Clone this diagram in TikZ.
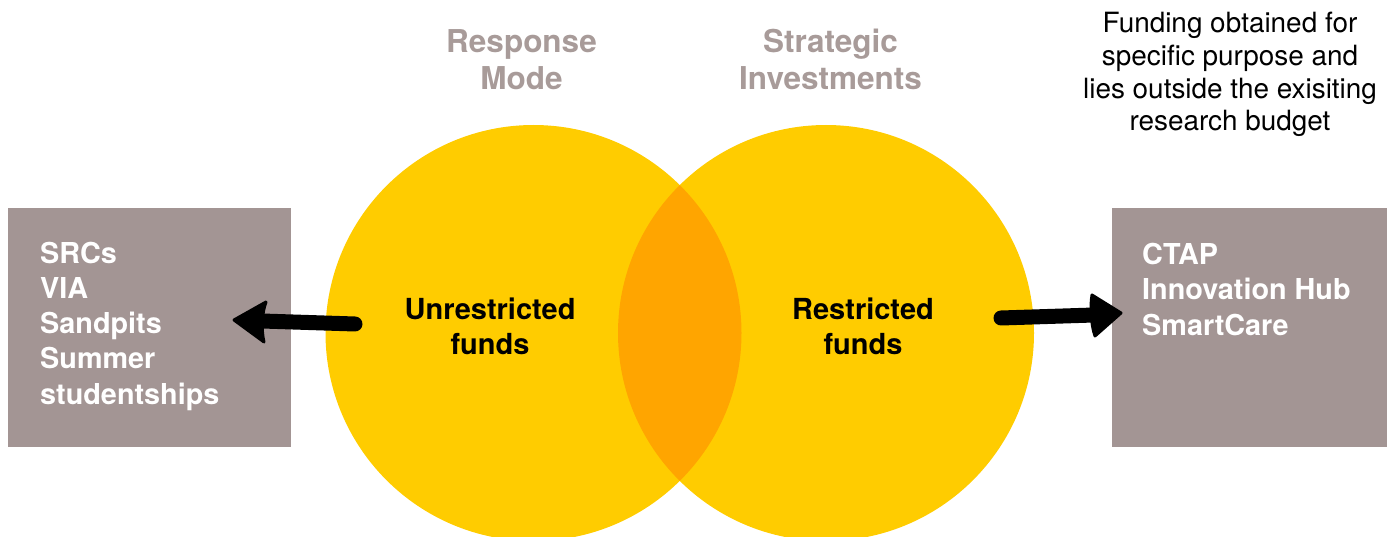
\documentclass[tikz,border=0pt]{standalone}
\usepackage{fontspec}
\setmainfont{TeX Gyre Heros}
\definecolor{venny}{HTML}{FFCC00}
\definecolor{vennov}{HTML}{FFA500}
\definecolor{boxgray}{HTML}{A39594}
\definecolor{titlegray}{HTML}{A89B99}
\tikzset{
  venn/.style={circle, fill=venny, draw=none, minimum size=416pt, inner sep=0pt},
  fundbox/.style={rectangle, fill=boxgray, draw=none, inner sep=0pt, anchor=north west},
  boxtext/.style={anchor=base west, inner sep=0pt, align=left, text=white,
    font=\fontsize{28.8}{35.2}\selectfont\bfseries},
  circtext/.style={anchor=base, inner sep=0pt, align=center, text=black,
    font=\fontsize{29}{35}\selectfont\bfseries},
  titletext/.style={anchor=base, inner sep=0pt, align=center, text=titlegray,
    font=\fontsize{31.5}{37}\selectfont\bfseries},
  notetext/.style={anchor=base, inner sep=0pt, align=center, text=black,
    font=\fontsize{27.9}{32.8}\selectfont},
  shaft/.style={draw=black, line width=15pt, line cap=round},
  head/.style={fill=black, draw=black, line width=3pt, line join=round}
}
\begin{document}
\begin{tikzpicture}[x=1pt, y=-1pt]
\useasboundingbox (0,0) rectangle (1387,537);
% boxes
\node[fundbox, minimum width=283pt, minimum height=239pt] (lbox) at (8,208) {};
\node[fundbox, minimum width=275pt, minimum height=239pt] (rbox) at (1112,208) {};
% circles
\node[venn] (lc) at (533.5,333) {};
\node[venn] (rc) at (826,333) {};
\begin{scope}
  \clip (533.5,333) circle (208pt);
  \fill[vennov] (826,333) circle (208pt);
\end{scope}
% texts (base anchor = last line's baseline)
\node[titletext] (t1) at (521.5,90) {Response\\Mode};
\node[titletext] (t2) at (830.5,90) {Strategic\\Investments};
\node[notetext] (note) at (1230,131) {Funding obtained for\\specific purpose and\\lies outside the exisiting\\research budget};
\node[circtext] (uf) at (490,354.5) {Unrestricted\\funds};
\node[circtext] (rf) at (863,354.5) {Restricted\\funds};
\node[boxtext] (lt) at (40,404) {SRCs\\VIA\\Sandpits\\Summer\\studentships};
\node[boxtext] (rt) at (1142,335) {CTAP\\Innovation Hub\\SmartCare};
% arrows
\coordinate (la0) at (355,324);
\coordinate (la1) at (262,321);
\coordinate (latip) at (234,320);
\draw[shaft] (la0) -- (la1);
\filldraw[head] (latip) -- (266,302) .. controls (262,312) and (261,330) .. (264,342) -- cycle;
\coordinate (ra0) at (1001,318);
\coordinate (ra1) at (1094,315);
\coordinate (ratip) at (1121,313);
\draw[shaft] (ra0) -- (ra1);
\filldraw[head] (ratip) -- (1092,295) .. controls (1090,306) and (1091,325) .. (1095,336) -- cycle;
\end{tikzpicture}
\end{document}
